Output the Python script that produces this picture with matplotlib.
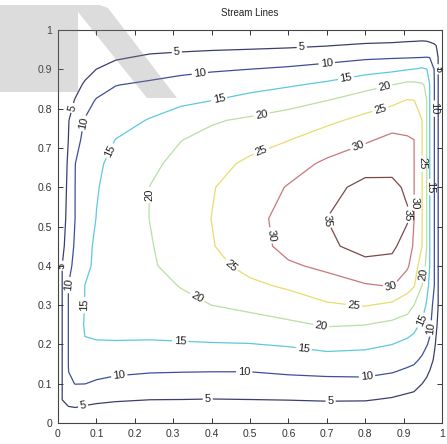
import numpy as np
import matplotlib
matplotlib.use("Agg")
import matplotlib.pyplot as plt
from matplotlib.patches import Polygon

x_nodes = [0, 0.011, 0.027, 0.045, 0.07, 0.1, 0.15, 0.24, 0.32, 0.4, 0.5, 0.6,
           0.7, 0.8, 0.87, 0.91, 0.927, 0.948, 0.96, 0.968, 0.98, 0.99, 1.0]
y_nodes = [0, 0.036, 0.06, 0.1, 0.13, 0.16, 0.2, 0.25, 0.3, 0.35, 0.4, 0.45,
           0.52, 0.6, 0.66, 0.72, 0.77, 0.82, 0.86, 0.9, 0.93, 0.96, 0.98, 1.0]
psi_rows = [
    [0]*23,
    [0, 4.0, 4.5, 4.7, 4.2, 3.75, 3.4, 3.05, 3.0, 2.95, 3.0, 3.1, 3.27, 3.2, 2.8, 2.3, 2.2, 1.8, 1.5, 1.33, 1.0, 0.6, 0],
    [0, 5.05, 6.4, 6.8, 6.5, 6.0, 5.5, 5.07, 5.02, 4.92, 5.02, 5.16, 5.4, 5.33, 4.6, 3.9, 3.66, 3.0, 2.5, 2.2, 1.67, 1.0, 0],
    [0, 5.05, 9.3, 10.1, 10.05, 9.4, 8.6, 8.0, 7.9, 7.8, 7.9, 8.3, 8.6, 8.7, 7.8, 6.8, 6.4, 5.02, 4.2, 3.7, 2.8, 1.7, 0],
    [0, 5.05, 9.98, 10.5, 11.4, 11.2, 10.7, 10.2, 10.06, 9.98, 9.98, 10.55, 10.9, 11.0, 10.2, 9.2, 8.7, 7.1, 5.7, 4.8, 3.6, 2.2, 0],
    [0, 5.05, 10.02, 11.0, 12.8, 12.8, 12.4, 12.0, 11.9, 11.9, 12.0, 12.6, 13.3, 13.1, 12.3, 11.3, 10.8, 9.3, 7.9, 6.7, 4.4, 2.7, 0],
    [0, 5.05, 10.02, 12.1, 14.8, 14.85, 14.8, 14.7, 14.7, 14.75, 14.85, 15.4, 16.4, 16.0, 15.02, 13.8, 13.2, 11.6, 10.3, 9.3, 5.6, 3.3, 0],
    [0, 5.05, 10.02, 13.0, 15.3, 15.5, 15.8, 16.0, 16.5, 17.3, 18.0, 19.1, 20.4, 20.05, 18.8, 17.6, 16.4, 14.2, 12.4, 11.1, 7.1, 4.2, 0],
    [0, 5.05, 10.02, 12.4, 15.1, 15.6, 16.1, 16.6, 18.3, 20.02, 21.2, 22.6, 24.4, 25.3, 24.0, 22.1, 20.02, 17.6, 14.5, 12.2, 8.5, 5.02, 0],
    [0, 5.05, 10.02, 12.2, 15.02, 15.9, 16.6, 17.8, 20.3, 21.4, 24.1, 25.7, 28.2, 29.6, 30.3, 27.0, 25.4, 20.02, 16.7, 13.9, 10.02, 5.02, 0],
    [0, 5.05, 8.6, 11.4, 14.3, 15.6, 16.9, 19.5, 21.5, 23.6, 26.4, 29.4, 30.9, 33.75, 33.4, 30.7, 27.4, 22.5, 19.0, 15.02, 10.02, 5.02, 0],
    [0, 3.7, 7.6, 10.7, 14.1, 15.5, 16.9, 19.7, 22.3, 24.7, 28.0, 31.4, 34.2, 36.5, 36.0, 32.7, 29.3, 25.02, 20.05, 15.05, 10.05, 5.02, 0],
    [0, 2.9, 6.6, 10.1, 12.6, 15.1, 17.0, 20.1, 22.6, 25.05, 28.4, 31.7, 35.02, 38.0, 37.2, 35.5, 30.1, 25.1, 20.1, 15.05, 10.05, 5.02, 0],
    [0, 2.5, 6.1, 10.1, 12.1, 14.7, 16.8, 20.1, 22.4, 24.7, 27.5, 30.3, 33.3, 36.5, 36.0, 34.3, 30.1, 25.1, 20.1, 15.05, 10.05, 5.02, 0],
    [0, 2.3, 5.7, 9.98, 11.9, 14.2, 16.3, 19.0, 21.4, 23.4, 25.9, 28.1, 30.8, 32.8, 33.6, 32.2, 30.1, 25.1, 20.1, 15.05, 10.05, 5.02, 0],
    [0, 2.0, 5.02, 8.75, 11.0, 12.6, 15.1, 17.3, 19.9, 21.4, 23.2, 24.9, 27.4, 29.5, 31.0, 30.6, 30.05, 25.1, 20.1, 15.05, 10.05, 5.02, 0],
    [0, 1.8, 4.8, 7.1, 10.3, 11.3, 13.3, 15.3, 17.5, 19.5, 20.8, 22.0, 24.0, 26.3, 28.2, 27.8, 27.6, 25.02, 20.05, 15.05, 10.05, 5.02, 0],
    [0, 1.5, 4.0, 5.2, 8.05, 10.4, 11.4, 12.9, 14.0, 15.02, 16.7, 18.4, 20.02, 22.6, 23.9, 25.3, 25.1, 23.5, 20.05, 15.05, 10.05, 5.02, 0],
    [0, 1.3, 3.3, 4.1, 5.4, 7.9, 9.9, 10.8, 11.7, 12.4, 13.3, 14.5, 16.0, 18.3, 20.02, 21.3, 21.2, 20.6, 19.2, 15.02, 10.05, 5.02, 0],
    [0, 1.0, 2.5, 2.9, 4.0, 5.02, 6.7, 8.1, 8.9, 9.5, 10.02, 10.7, 11.7, 13.2, 14.0, 14.8, 15.1, 15.7, 15.1, 14.0, 9.8, 5.02, 0],
    [0, 0.7, 1.8, 2.1, 2.8, 3.5, 4.5, 5.7, 6.25, 6.7, 7.1, 7.6, 8.4, 9.3, 9.65, 9.8, 9.9, 10.02, 10.1, 9.98, 8.5, 4.95, 0],
    [0, 0.4, 1.0, 1.2, 1.6, 2.0, 2.4, 3.4, 3.6, 3.85, 4.1, 4.4, 4.9, 5.8, 6.1, 6.4, 6.5, 6.6, 6.5, 6.2, 5.5, 4.5, 0],
    [0, 0.2, 0.5, 0.6, 0.8, 1.0, 1.3, 1.6, 1.8, 1.9, 2.0, 2.2, 2.4, 3.0, 3.3, 3.7, 3.8, 4.0, 3.9, 3.6, 3.3, 2.5, 0],
    [0]*23,
]
levels = [5, 10, 15, 20, 25, 30, 35]
level_colors = ["#3b3f6e", "#3d4f9a", "#5cc8e0", "#b8e0a0", "#e8dc6e", "#c87878", "#7a4a4a"]
tick_values = [0, 0.1, 0.2, 0.3, 0.4, 0.5, 0.6, 0.7, 0.8, 0.9, 1.0]
tick_labels = ["0", "0.1", "0.2", "0.3", "0.4", "0.5", "0.6", "0.7", "0.8", "0.9", "1"]
label_points = [
    (0.044, 0.80), (0.31, 0.936), (0.635, 0.954), (0.015, 0.40), (0.066, 0.04),
    (0.39, 0.058), (0.71, 0.054),
    (0.083, 0.76), (0.033, 0.35), (0.37, 0.885), (0.70, 0.915), (0.16, 0.115),
    (0.485, 0.128), (0.805, 0.116), (0.975, 0.24),
    (0.14, 0.69), (0.42, 0.822), (0.75, 0.877), (0.068, 0.30), (0.318, 0.207),
    (0.64, 0.188), (0.945, 0.262),
    (0.237, 0.58), (0.53, 0.785), (0.85, 0.855), (0.36, 0.315), (0.685, 0.246),
    (0.955, 0.377),
    (0.53, 0.69), (0.84, 0.796), (0.45, 0.40), (0.77, 0.297),
    (0.78, 0.707), (0.56, 0.478), (0.867, 0.346), (0.927, 0.56),
    (0.70, 0.515), (0.91, 0.53),
    (0.99, 0.90), (0.98, 0.80), (0.968, 0.60), (0.948, 0.66),
]

plt.rcParams["font.family"] = ["Liberation Sans", "DejaVu Sans"]

fig = plt.figure(figsize=(4.47, 4.44), dpi=100)
ax = fig.add_axes([58 / 447, 1 - 423 / 444, 384 / 447, 393 / 444])

psi = np.array(psi_rows, dtype=float)
cs = ax.contour(x_nodes, y_nodes, psi, levels=levels, colors=level_colors,
                linewidths=0.9)
ax.clabel(cs, fmt="%d", fontsize=8, colors="#222222", inline=True,
          inline_spacing=2, manual=label_points)

ax.set_xlim(0, 1)
ax.set_ylim(0, 1)
ax.set_xticks(tick_values)
ax.set_xticklabels(tick_labels)
ax.set_yticks(tick_values)
ax.set_yticklabels(tick_labels)
ax.tick_params(direction="in", length=3.5, width=0.7, top=True, right=True,
               labelsize=7.5, colors="#333333", pad=4)
for sp in ax.spines.values():
    sp.set_color("#444444")
    sp.set_linewidth(0.8)
ax.set_title("Stream Lines", fontsize=7, color="#222222", pad=10)

# light grey watermark shape in the upper-left corner
def fp(px, py):
    return (px / 447, 1 - py / 444)

rect = Polygon([fp(0, 5), fp(78, 5), fp(78, 92), fp(0, 92)], closed=True,
               transform=fig.transFigure, facecolor=(0.5, 0.5, 0.5), alpha=0.27,
               edgecolor="none", zorder=10)
band = Polygon([fp(78, 5), fp(100, 5), fp(108, 8), fp(177, 98), fp(147, 98), fp(78, 12)],
               closed=True, transform=fig.transFigure, facecolor=(0.5, 0.5, 0.5),
               alpha=0.27, edgecolor="none", zorder=10)
fig.add_artist(rect)
fig.add_artist(band)

fig.savefig("out.png", dpi=100)
